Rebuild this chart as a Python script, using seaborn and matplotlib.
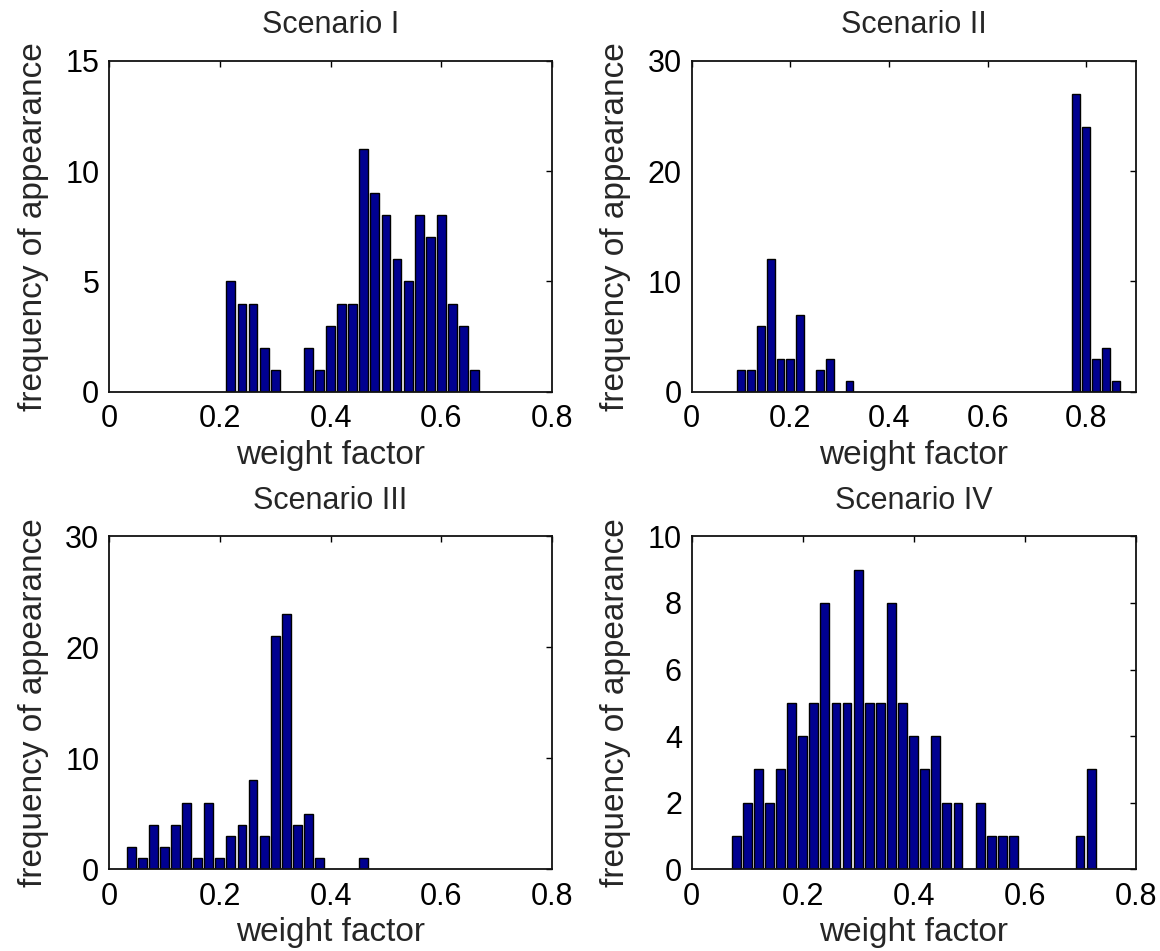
import numpy as np
import pandas as pd
import matplotlib
matplotlib.use("Agg")
import matplotlib.pyplot as plt
import seaborn as sns

# bin centres and counts (empty bins left out)
s1_centers = [0.22, 0.24, 0.26, 0.28, 0.30, 0.36, 0.38, 0.40, 0.42, 0.44, 0.46,
              0.48, 0.50, 0.52, 0.54, 0.56, 0.58, 0.60, 0.62, 0.64, 0.66]
s1_counts = [5, 4, 4, 2, 1, 2, 1, 3, 4, 4, 11, 9, 8, 6, 5, 8, 7, 8, 4, 3, 1]

s2_centers = [0.10, 0.12, 0.14, 0.16, 0.18, 0.20, 0.22, 0.26, 0.28, 0.32,
              0.78, 0.80, 0.82, 0.84, 0.86]
s2_counts = [2, 2, 6, 12, 3, 3, 7, 2, 3, 1, 27, 24, 3, 4, 1]

s3_centers = [0.04, 0.06, 0.08, 0.10, 0.12, 0.14, 0.16, 0.18, 0.20, 0.22, 0.24,
              0.26, 0.28, 0.30, 0.32, 0.34, 0.36, 0.38, 0.46]
s3_counts = [2, 1, 4, 2, 4, 6, 1, 6, 1, 3, 4, 8, 3, 21, 23, 4, 5, 1, 1]

s4_centers = [0.08, 0.10, 0.12, 0.14, 0.16, 0.18, 0.20, 0.22, 0.24, 0.26, 0.28,
              0.30, 0.32, 0.34, 0.36, 0.38, 0.40, 0.42, 0.44, 0.46, 0.48,
              0.52, 0.54, 0.56, 0.58, 0.70, 0.72]
s4_counts = [1, 2, 3, 2, 3, 5, 4, 5, 8, 5, 5, 9, 5, 5, 8, 5, 4, 3, 4, 2, 2,
             2, 1, 1, 1, 1, 3]

titles = ["Scenario I", "Scenario II", "Scenario III", "Scenario IV"]
xlims = [(0, 0.8), (0, 0.9), (0, 0.8), (0, 0.8)]
yticks = [[0, 5, 10, 15], [0, 10, 20, 30], [0, 10, 20, 30], [0, 2, 4, 6, 8, 10]]
xticks = [0, 0.2, 0.4, 0.6, 0.8]
xticklabels = ["0", "0.2", "0.4", "0.6", "0.8"]

sns.set_style("white")
plt.rcParams["font.family"] = ["Liberation Sans", "DejaVu Sans"]

fig = plt.figure(figsize=(11.6, 9.51), dpi=100)
positions = [
    [0.094, 0.588, 0.382, 0.348],
    [0.5963, 0.588, 0.3826, 0.348],
    [0.094, 0.086, 0.382, 0.350],
    [0.5963, 0.086, 0.3826, 0.350],
]

data = [(s1_centers, s1_counts), (s2_centers, s2_counts),
        (s3_centers, s3_counts), (s4_centers, s4_counts)]

for i, (cx, cy) in enumerate(data):
    ax = fig.add_axes(positions[i])
    df = pd.DataFrame({"weight": cx, "count": cy})
    sns.barplot(data=df, x="weight", y="count", native_scale=True, width=0.8,
                color="#000090", saturation=1, edgecolor="black",
                linewidth=1.0, ax=ax)
    ax.set_xlim(*xlims[i])
    ax.set_ylim(yticks[i][0], yticks[i][-1])
    ax.set_xticks(xticks)
    ax.set_xticklabels(xticklabels)
    ax.set_yticks(yticks[i])
    ax.set_yticklabels([str(v) for v in yticks[i]])
    ax.tick_params(direction="in", top=True, right=True, length=4,
                   width=1, labelsize=22, colors="black")
    ax.tick_params(axis="x", pad=9)
    ax.tick_params(axis="y", pad=7)
    for sp in ax.spines.values():
        sp.set_visible(True)
        sp.set_color("#111111")
        sp.set_linewidth(1.3)
    ax.set_xlabel("weight factor", fontsize=24, labelpad=4)
    ax.set_ylabel("frequency of appearance", fontsize=24, labelpad=12)
    ax.set_title(titles[i], fontsize=22, pad=20)

fig.savefig("out.png", dpi=100, facecolor="white")
